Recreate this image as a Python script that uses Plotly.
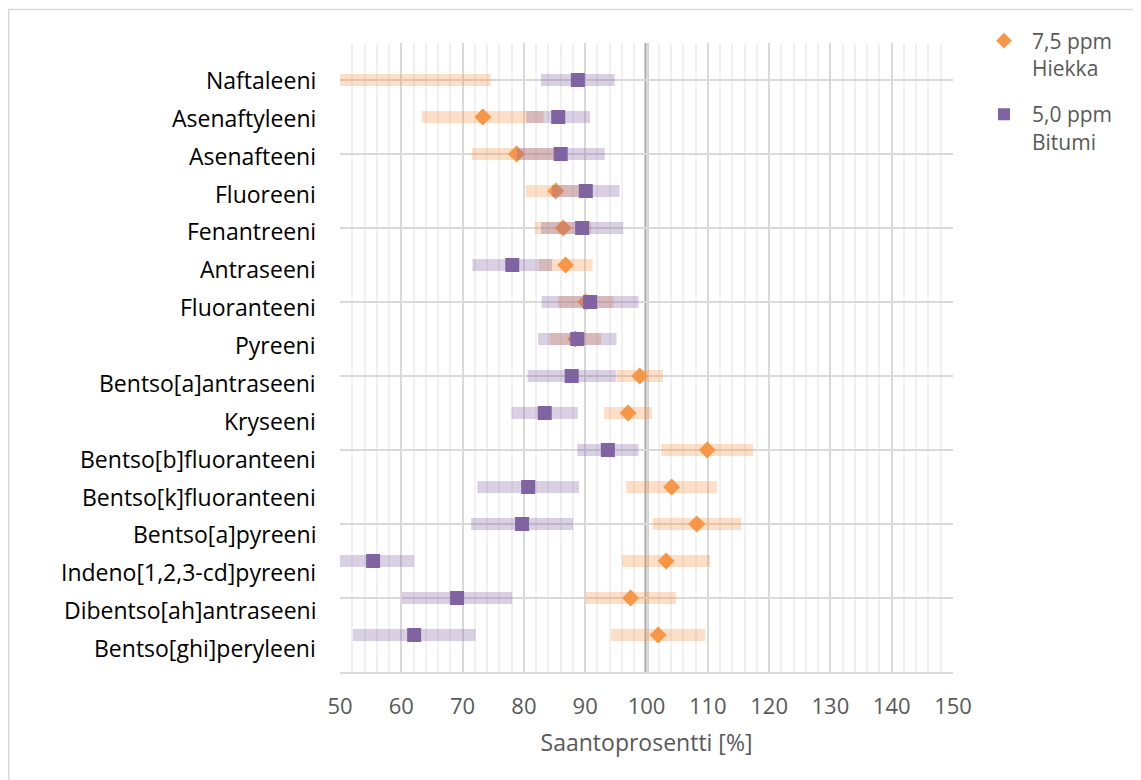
import plotly.graph_objects as go

categories = [
    "Naftaleeni", "Asenaftyleeni", "Asenafteeni", "Fluoreeni", "Fenantreeni",
    "Antraseeni", "Fluoranteeni", "Pyreeni", "Bentso[a]antraseeni", "Kryseeni",
    "Bentso[b]fluoranteeni", "Bentso[k]fluoranteeni", "Bentso[a]pyreeni",
    "Indeno[1,2,3-cd]pyreeni", "Dibentso[ah]antraseeni", "Bentso[ghi]peryleeni",
]
# y positions (numeric axis, top = 16)
ypos = [16, 15, 14, 13, 12, 11, 10, 9, 8, 7, 6, 5, 4, 3, 2, 1]

hiekka_name = "7,5 ppm<br>Hiekka"
hiekka_val = [45.0, 73.3, 78.8, 85.2, 86.4, 86.8, 90.1, 88.4, 98.9, 97.0,
              109.9, 104.1, 108.2, 103.2, 97.4, 101.9]
hiekka_err = [29.6, 9.9, 7.3, 4.9, 4.6, 4.4, 4.5, 4.2, 3.8, 3.9,
              7.5, 7.4, 7.2, 7.2, 7.4, 7.7]

bitumi_name = "5,0 ppm<br>Bitumi"
bitumi_val = [88.8, 85.6, 86.0, 90.1, 89.5, 78.1, 90.8, 88.7, 87.8, 83.4,
              93.7, 80.7, 79.7, 55.4, 69.1, 62.1]
bitumi_err = [6.0, 5.2, 7.2, 5.5, 6.7, 6.5, 7.9, 6.4, 7.2, 5.4,
              5.0, 8.3, 8.3, 6.7, 9.0, 10.0]

x_ticks = [50, 60, 70, 80, 90, 100, 110, 120, 130, 140, 150]

ORANGE = "#F79646"
PURPLE = "#8064A2"
FONT = "Open Sans"

# page body has an 8px margin; figure is sized/offset to compensate
W, H = 1133, 772
ML, MT, PW, PH = 332, 35, 613, 629

fig = go.Figure()
fig.add_trace(go.Scatter(
    x=hiekka_val, y=ypos, mode="markers", name=hiekka_name, legendgroup="a",
    marker=dict(symbol="diamond", size=13, color=ORANGE, line=dict(width=0)),
    error_x=dict(type="data", array=hiekka_err, symmetric=True,
                 color="rgba(247,150,70,0.3)", thickness=12, width=0),
))
fig.add_trace(go.Scatter(
    x=bitumi_val, y=ypos, mode="markers", name=bitumi_name, legendgroup="b",
    marker=dict(symbol="square", size=14, color=PURPLE, line=dict(width=0)),
    error_x=dict(type="data", array=bitumi_err, symmetric=True,
                 color="rgba(128,100,162,0.3)", thickness=12, width=0),
))

# category labels (text boxes left of the plot)
annotations = []
for i, c in enumerate(categories):
    py = 72 + 37.87 * i  # figure pixel position of the label centre
    annotations.append(dict(
        text=c, xref="paper", yref="paper", x=0, xshift=-22,
        y=(MT + PH - py) / PH, xanchor="right", yanchor="middle",
        showarrow=False, font=dict(family=FONT, size=23, color="#000000"),
    ))

shapes = [
    dict(type="line", xref="x", yref="paper", x0=100, x1=100, y0=0, y1=1,
         line=dict(color="#A6A6A6", width=4), layer="between"),
    dict(type="rect", xref="paper", yref="paper",
         x0=(0.75 - ML) / PW, x1=(W + 20 - ML) / PW,
         y0=(MT + PH - H - 20) / PH, y1=(MT + PH - 1.5) / PH,
         line=dict(color="#D9D9D9", width=1.5), fillcolor="rgba(0,0,0,0)",
         layer="below"),
]

fig.update_layout(
    width=W, height=H,
    margin=dict(l=ML, r=W - ML - PW, t=MT, b=H - MT - PH, pad=0),
    paper_bgcolor="white", plot_bgcolor="white",
    font=dict(family=FONT, size=23, color="#595959"),
    showlegend=True,
    legend=dict(x=(968 - ML) / PW, xanchor="left",
                y=1 + 22.5 / PH, yanchor="top",
                valign="top", font=dict(family=FONT, size=21, color="#595959"),
                traceorder="grouped", tracegroupgap=16, itemwidth=46,
                itemsizing="constant", bgcolor="rgba(0,0,0,0)"),
    annotations=annotations,
    shapes=shapes,
)
fig.update_xaxes(
    range=[50, 150], tickvals=x_ticks, ticktext=[str(t) for t in x_ticks],
    showgrid=True, gridcolor="#D9D9D9", gridwidth=1.5,
    minor=dict(dtick=2, showgrid=True, gridcolor="#F0F0F0", gridwidth=1.5),
    showline=True, linecolor="#D9D9D9", linewidth=1.5,
    zeroline=False, ticks="", ticklabelstandoff=14,
    tickfont=dict(family=FONT, size=22, color="#595959"),
    title=dict(text="Saantoprosentti [%]", standoff=16,
               font=dict(family=FONT, size=23, color="#595959")),
)
fig.update_yaxes(
    range=[0, 17], dtick=2, tick0=0, showgrid=True, gridcolor="#D9D9D9",
    gridwidth=1.5, showticklabels=False, zeroline=False, showline=False,
    ticks="",
)

fig.write_html("out.html")
